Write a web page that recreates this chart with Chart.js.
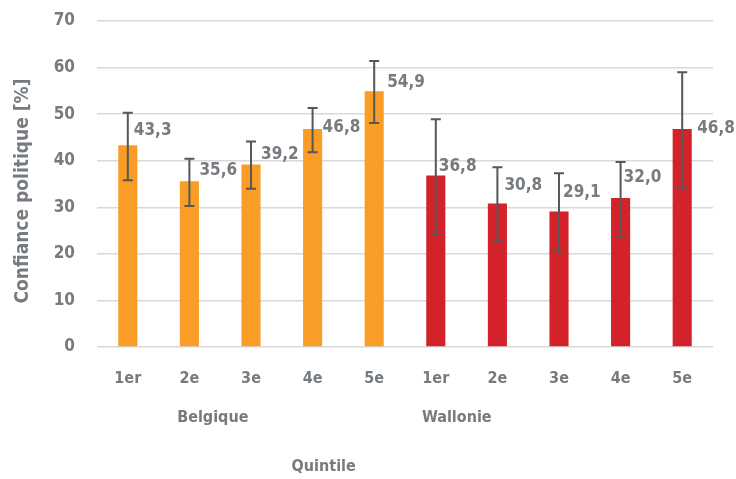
<!DOCTYPE html>
<html>
<head>
<meta charset="utf-8">
<script src="https://cdn.jsdelivr.net/npm/chart.js@4"></script>
<style>
  html, body { margin: 0; padding: 0; background: #fff; }
  #wrap { width: 736px; height: 479px; }
</style>
</head>
<body>
<div id="wrap"><canvas id="chart"></canvas></div>
<script>
// données
const quintiles = ["1er", "2e", "3e", "4e", "5e", "1er", "2e", "3e", "4e", "5e"];
const regions = ["Belgique", "Wallonie"];
const regionIndex = [0, 0, 0, 0, 0, 1, 1, 1, 1, 1];
const confiance = [43.3, 35.6, 39.2, 46.8, 54.9, 36.8, 30.8, 29.1, 32.0, 46.8];
const borneHaute = [50.3, 40.4, 44.1, 51.3, 61.4, 48.9, 38.6, 37.3, 39.7, 59.0];
const borneBasse = [35.8, 30.3, 34.0, 41.8, 48.1, 24.2, 22.7, 20.5, 23.8, 34.2];
const yTicks = [0, 10, 20, 30, 40, 50, 60, 70];

const regionColors = ["#F99D26", "#D3222A"];
const textColor = "#767B80";
const FONT = "'DejaVu Sans Condensed', sans-serif";

const fmt = (v) => v.toFixed(1).replace(".", ",");

// barres d'erreur + étiquettes + titres
const extras = {
  id: "extras",
  afterDatasetsDraw(chart, args, opts) {
    const { ctx, chartArea } = chart;
    const y = chart.scales.y;
    const meta = chart.getDatasetMeta(0);
    const w = chartArea.right - chartArea.left;

    ctx.save();
    // barres d'erreur
    ctx.strokeStyle = "#575757";
    ctx.lineWidth = 2;
    meta.data.forEach((bar, i) => {
      const cx = bar.x;
      const yt = y.getPixelForValue(borneHaute[i]);
      const yb = y.getPixelForValue(borneBasse[i]);
      ctx.beginPath();
      ctx.moveTo(cx, yt); ctx.lineTo(cx, yb);
      ctx.moveTo(cx - 5, yt); ctx.lineTo(cx + 5, yt);
      ctx.moveTo(cx - 5, yb); ctx.lineTo(cx + 5, yb);
      ctx.stroke();
    });

    // étiquettes de valeurs
    ctx.fillStyle = textColor;
    ctx.font = "bold 17px " + FONT;
    ctx.textAlign = "left";
    ctx.textBaseline = "middle";
    meta.data.forEach((bar, i) => {
      const off = opts.labelOffsets[i];
      ctx.fillText(fmt(confiance[i]), bar.x + off[0], bar.y + off[1]);
    });

    // libellés des régions
    ctx.textAlign = "center";
    ctx.font = "bold 16px " + FONT;
    regions.forEach((r, k) => {
      ctx.fillText(r, chartArea.left + opts.regionPos[k] * w, 418);
    });

    // titre axe x
    ctx.fillText("Quintile", chartArea.left + 0.368 * w, 467);

    // titre axe y
    ctx.translate(23, 191);
    ctx.rotate(-Math.PI / 2);
    ctx.font = "bold 19px " + FONT;
    ctx.fillText("Confiance politique [%]", 0, 0);
    ctx.restore();
  }
};

new Chart(document.getElementById("chart"), {
  type: "bar",
  data: {
    labels: quintiles,
    datasets: [{
      data: confiance,
      backgroundColor: regionIndex.map((k) => regionColors[k]),
      borderWidth: 0,
      barPercentage: 0.31,
      categoryPercentage: 1.0,
    }],
  },
  options: {
    responsive: true,
    maintainAspectRatio: false,
    animation: false,
    layout: { padding: { top: 21, right: 23, left: 0, bottom: 0 } },
    plugins: {
      legend: { display: false },
      tooltip: { enabled: false },
      extras: {
        labelOffsets: [
          [6, -15], [10, -11], [10, -10], [10, -1], [13, -9],
          [3, -9], [7, -18], [4, -19], [3, -20], [15, 0],
        ],
        regionPos: [0.188, 0.584],
      },
    },
    scales: {
      x: {
        grid: { display: false, drawTicks: false },
        border: { display: false },
        ticks: { color: textColor, font: { family: FONT, size: 16, weight: "bold" }, padding: 22, maxRotation: 0 },
        afterFit: (s) => { s.height = 479 - 347; },
      },
      y: {
        min: 0,
        max: 70,
        afterBuildTicks: (s) => { s.ticks = yTicks.map((v) => ({ value: v })); },
        grid: { color: "#D9D9D9", lineWidth: 1.5, drawTicks: false },
        border: { display: false },
        ticks: { color: textColor, font: { family: FONT, size: 17, weight: "bold" }, padding: 22 },
        afterFit: (s) => { s.width = 97; s.paddingTop = 0; s.paddingBottom = 0; },
      },
    },
  },
  plugins: [extras],
});
</script>
</body>
</html>
